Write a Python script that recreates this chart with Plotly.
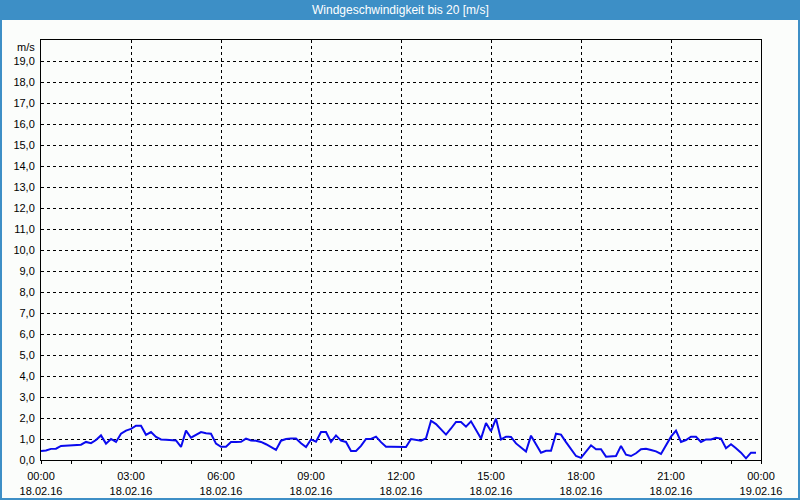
import pandas as pd
import plotly.graph_objects as go

# Wind speed [m/s], 10-minute values, 18.02.16 00:00 .. 23:50
speed = [
    0.43, 0.45, 0.53, 0.54, 0.67, 0.68, 0.69, 0.70, 0.73, 0.86,
    0.80, 0.95, 1.17, 0.78, 1.00, 0.86, 1.25, 1.40, 1.48, 1.63,
    1.63, 1.20, 1.33, 1.10, 0.98, 0.97, 0.96, 0.93, 0.62, 1.40,
    1.06, 1.20, 1.33, 1.27, 1.25, 0.78, 0.63, 0.63, 0.86, 0.86,
    0.87, 1.02, 0.93, 0.92, 0.86, 0.75, 0.60, 0.48, 0.92, 1.00,
    1.02, 1.02, 0.80, 0.62, 0.98, 0.87, 1.33, 1.33, 0.86, 1.17,
    0.92, 0.86, 0.43, 0.43, 0.67, 1.00, 1.00, 1.11, 0.85, 0.63,
    0.63, 0.63, 0.62, 0.62, 1.00, 0.95, 0.92, 1.03, 1.87, 1.71,
    1.45, 1.21, 1.50, 1.81, 1.81, 1.59, 1.84, 1.40, 1.02, 1.76,
    1.37, 1.97, 0.98, 1.11, 1.10, 0.79, 0.60, 0.40, 1.16, 0.75,
    0.35, 0.44, 0.44, 1.25, 1.21, 0.85, 0.51, 0.19, 0.10, 0.40,
    0.70, 0.51, 0.51, 0.16, 0.16, 0.19, 0.67, 0.25, 0.19, 0.32,
    0.51, 0.54, 0.48, 0.41, 0.29, 0.68, 1.11, 1.40, 0.86, 0.95,
    1.11, 1.11, 0.86, 0.98, 0.98, 1.06, 1.02, 0.56, 0.75, 0.56,
    0.35, 0.08, 0.35, 0.35,
]
times = pd.date_range("2016-02-18 00:00", periods=len(speed), freq="10min")

x_tick_vals = pd.date_range("2016-02-18 00:00", "2016-02-19 00:00", freq="3h")
x_tick_text = [
    "00:00<br>18.02.16", "03:00<br>18.02.16", "06:00<br>18.02.16",
    "09:00<br>18.02.16", "12:00<br>18.02.16", "15:00<br>18.02.16",
    "18:00<br>18.02.16", "21:00<br>18.02.16", "00:00<br>19.02.16",
]
y_tick_vals = list(range(0, 20))
y_tick_text = ["%d,0" % v for v in y_tick_vals]

title_text = "Windgeschwindigkeit bis 20 [m/s]"
unit_text = "m/s"

W, H = 800, 500
L, R, T, B = 41, 39, 40, 40
PW, PH = W - L - R, H - T - B
BLUE = "#3d8fc6"
BG = "#fbfdfb"
FONT = "Liberation Sans"


def px_x(p):
    return (p - L) / PW


def px_y(p):
    return 1 - (p - T) / PH


fig = go.Figure()
fig.add_trace(go.Scatter(
    x=times, y=speed, mode="lines",
    line=dict(color="#0a0aee", width=2),
    hoverinfo="skip", showlegend=False,
))

shapes = [
    # title bar
    dict(type="rect", xref="paper", yref="paper", x0=px_x(0), x1=px_x(W),
         y0=px_y(20), y1=px_y(0), fillcolor=BLUE, line=dict(width=0), layer="above"),
    # window borders
    dict(type="rect", xref="paper", yref="paper", x0=px_x(0), x1=px_x(2),
         y0=px_y(H), y1=px_y(0), fillcolor=BLUE, line=dict(width=0), layer="above"),
    dict(type="rect", xref="paper", yref="paper", x0=px_x(W - 2), x1=px_x(W),
         y0=px_y(H), y1=px_y(0), fillcolor=BLUE, line=dict(width=0), layer="above"),
    dict(type="rect", xref="paper", yref="paper", x0=px_x(0), x1=px_x(W),
         y0=px_y(H), y1=px_y(H - 2), fillcolor=BLUE, line=dict(width=0), layer="above"),
]

annotations = [
    dict(text=title_text, xref="paper", yref="paper", x=px_x(400), y=px_y(10),
         xanchor="center", yanchor="middle", showarrow=False,
         font=dict(family=FONT, size=12, color="white")),
    dict(text=unit_text, xref="paper", yref="paper", x=px_x(37), y=px_y(47),
         xanchor="right", yanchor="middle", showarrow=False,
         font=dict(family=FONT, size=11, color="black")),
]

fig.update_layout(
    width=W, height=H,
    margin=dict(l=L, r=R, t=T, b=B, pad=0, autoexpand=False),
    paper_bgcolor=BG, plot_bgcolor=BG,
    font=dict(family=FONT, size=11, color="black"),
    shapes=shapes, annotations=annotations,
    xaxis=dict(
        automargin=False,
        range=[x_tick_vals[0], x_tick_vals[-1]],
        tickmode="array", tickvals=list(x_tick_vals), ticktext=x_tick_text,
        ticks="outside", ticklen=3, tickcolor="black", ticklabelstandoff=3,
        showgrid=True, gridcolor="black", griddash="3px,3px", gridwidth=1,
        showline=True, linecolor="black", linewidth=1, mirror=True,
        zeroline=False,
        minor=dict(dtick=3600000, ticks="outside", ticklen=3, tickcolor="black",
                   showgrid=False),
        tickfont=dict(family=FONT, size=11, color="black"),
    ),
    yaxis=dict(
        automargin=False,
        range=[0, 20],
        tickmode="array", tickvals=y_tick_vals, ticktext=y_tick_text,
        ticks="", showgrid=True, gridcolor="black", griddash="3px,3px", gridwidth=1,
        showline=True, linecolor="black", linewidth=1, mirror=True,
        zeroline=False, ticklabelstandoff=3,
        tickfont=dict(family=FONT, size=11, color="black"),
    ),
)

fig.write_html("out.html")
